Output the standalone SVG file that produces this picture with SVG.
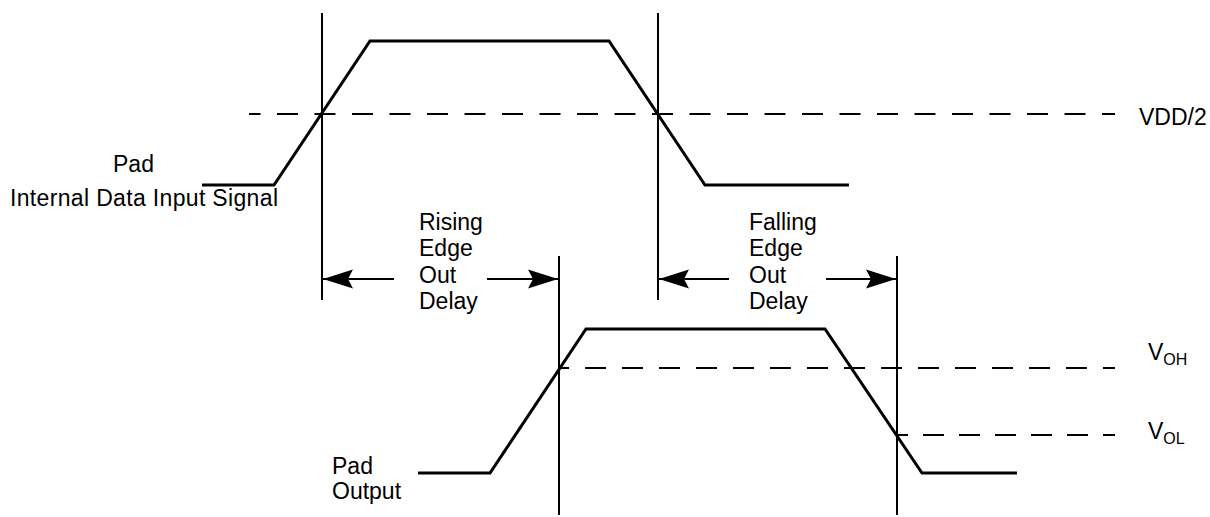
<svg xmlns="http://www.w3.org/2000/svg" width="1210" height="517" viewBox="0 0 1210 517">
<style>
.wave{fill:none;stroke:#000;stroke-width:3;stroke-linejoin:miter}
.vline{stroke:#000;stroke-width:2}
.dash{stroke:#000;stroke-width:2;stroke-dasharray:21 16}
.arr{stroke:#000;stroke-width:2;marker-end:url(#ah)}
text{font-family:"Liberation Sans",Arial,Helvetica,sans-serif;font-size:23px;fill:#000}
.sub{font-size:16px}
</style>
<defs>
<marker id="ah" viewBox="-32 -10 34 20" markerWidth="34" markerHeight="20" refX="0" refY="0" markerUnits="userSpaceOnUse" orient="auto">
<path d="M0,0 L-30,-9.5 L-25,0 L-30,9.5 Z" fill="#000"/>
</marker>
</defs>
<rect width="1210" height="517" fill="#fff"/>
<g id="levels">
<line class="dash" x1="249" y1="114" x2="1115" y2="114" style="stroke-dasharray:21 16.5;stroke-dashoffset:9.5"/>
<line class="dash" x1="559" y1="368" x2="1115" y2="368" style="stroke-dashoffset:11"/>
<line class="dash" x1="897" y1="435" x2="1115" y2="435" style="stroke-dasharray:21 15;stroke-dashoffset:10"/>
</g>
<g id="input-signal">
<polyline class="wave" points="202,185 274,185 370,41 609,41 705,185 849,185"/>
</g>
<g id="output-signal">
<polyline class="wave" points="418,473 490,473 586,329 825,329 922,473 1017,473"/>
</g>
<g id="markers">
<line class="vline" x1="322" y1="13" x2="322" y2="300"/>
<line class="vline" x1="658" y1="13" x2="658" y2="300"/>
<line class="vline" x1="559" y1="256" x2="559" y2="515"/>
<line class="vline" x1="897" y1="256" x2="897" y2="515"/>
</g>
<g id="connectors">
<line class="arr" x1="394" y1="279" x2="323" y2="279"/>
<line class="arr" x1="487" y1="279" x2="558" y2="279"/>
<line class="arr" x1="729" y1="279" x2="659" y2="279"/>
<line class="arr" x1="826" y1="279" x2="896" y2="279"/>
</g>
<g id="label-input">
<text x="113" y="172">Pad</text>
<text x="10" y="206" textLength="268" lengthAdjust="spacing">Internal Data Input Signal</text>
</g>
<g id="label-rising">
<text x="419" y="230">Rising</text>
<text x="419" y="256">Edge</text>
<text x="419" y="283">Out</text>
<text x="419" y="309">Delay</text>
</g>
<g id="label-falling">
<text x="749" y="230">Falling</text>
<text x="749" y="256">Edge</text>
<text x="749" y="283">Out</text>
<text x="749" y="309">Delay</text>
</g>
<g id="label-output">
<text x="332" y="474">Pad</text>
<text x="332" y="499">Output</text>
</g>
<g id="label-vdd">
<text x="1139" y="125">VDD/2</text>
</g>
<g id="label-voh">
<text x="1148" y="360">V<tspan class="sub" dy="5">OH</tspan></text>
</g>
<g id="label-vol">
<text x="1148" y="439">V<tspan class="sub" dy="5">OL</tspan></text>
</g>
</svg>
